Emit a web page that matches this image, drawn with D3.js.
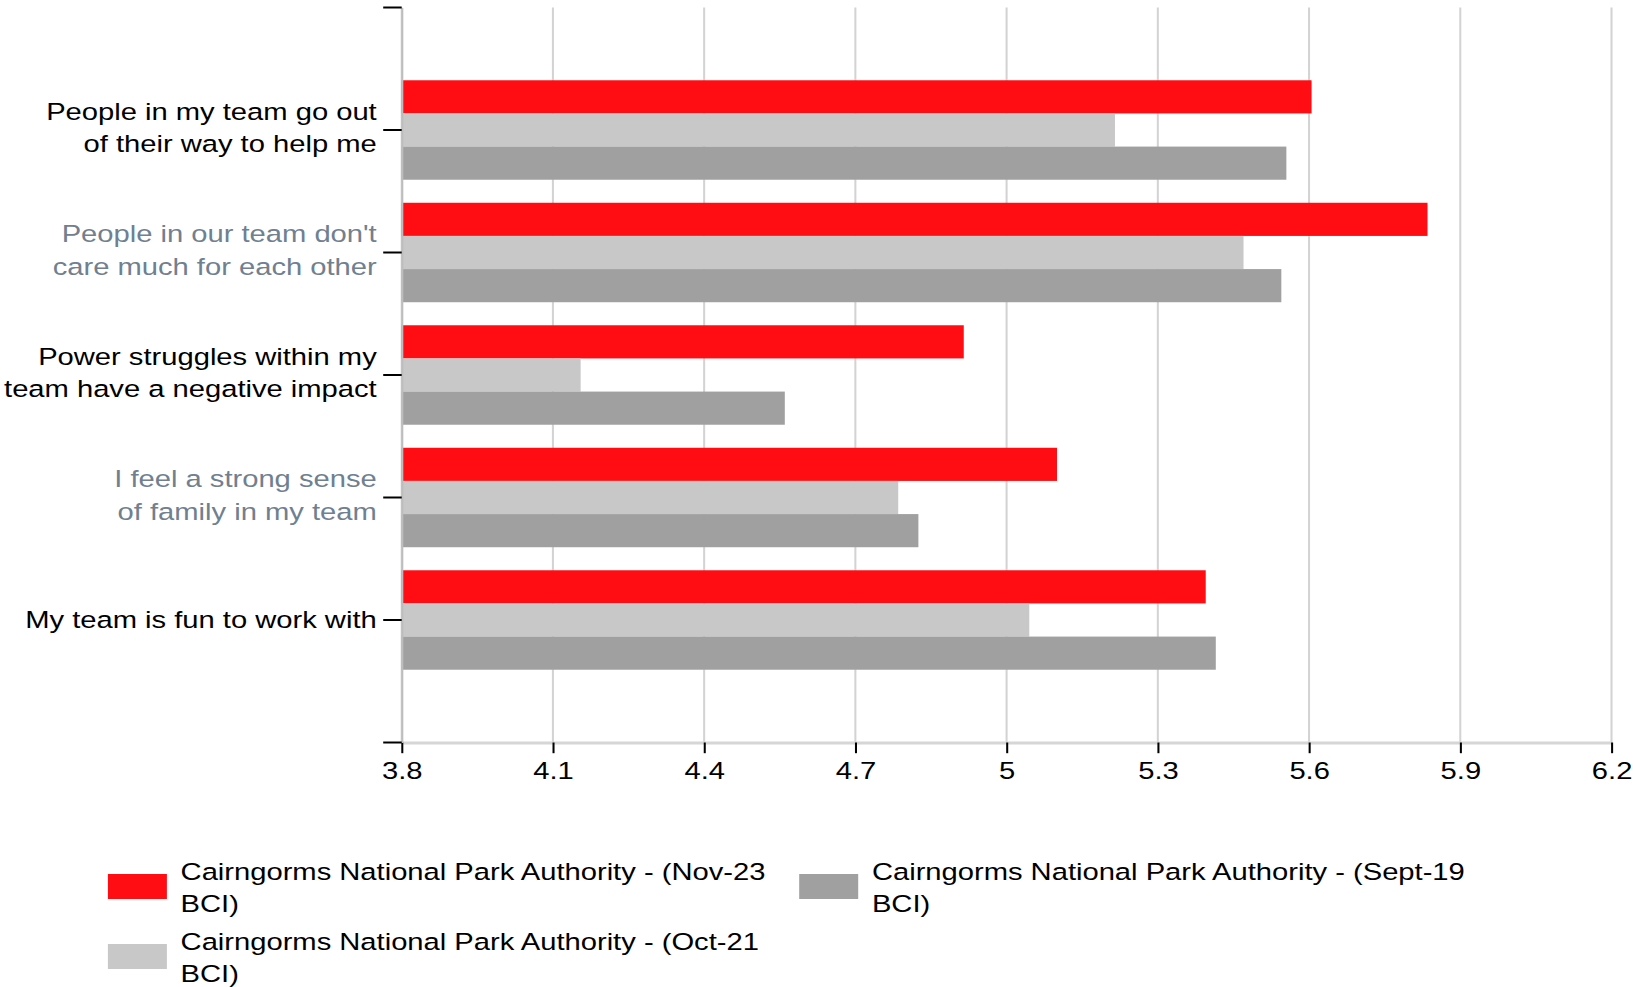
<!DOCTYPE html>
<html>
<head>
<meta charset="utf-8">
<script src="https://cdn.jsdelivr.net/npm/d3@7"></script>
<style>
  html, body { margin: 0; padding: 0; background: #fff; }
  svg { display: block; }
  text { font-family: "Liberation Sans", Arial, sans-serif; }
</style>
</head>
<body>
<div id="chart"></div>
<script>
// ---- data ----
const categories = [
  "People in my team go out\nof their way to help me",
  "People in our team don't\ncare much for each other",
  "Power struggles within my\nteam have a negative impact",
  "I feel a strong sense\nof family in my team",
  "My team is fun to work with"
];
const labelColors = ["#000000", "#708090", "#000000", "#708090", "#000000"];
const seriesNames = [
  "Cairngorms National Park Authority - (Nov-23 BCI)",
  "Cairngorms National Park Authority - (Oct-21 BCI)",
  "Cairngorms National Park Authority - (Sept-19 BCI)"
];
const seriesColors = ["#ff0d12", "#c8c8c8", "#a0a0a0"];
const nov23  = [5.605, 5.835, 4.915, 5.10, 5.395];
const oct21  = [5.215, 5.47, 4.155, 4.785, 5.045];
const sept19 = [5.555, 5.545, 4.56, 4.825, 5.415];
const xTicks = [3.8, 4.1, 4.4, 4.7, 5.0, 5.3, 5.6, 5.9, 6.2];
const xTickLabels = ["3.8", "4.1", "4.4", "4.7", "5", "5.3", "5.6", "5.9", "6.2"];

const seriesValues = [nov23, oct21, sept19];

// ---- layout ----
const W = 1633, H = 987;
const k = 1.2;              // horizontal stretch of the original rendering
const fontSize = 24.3;

const svg = d3.select("#chart").append("svg")
  .attr("width", W).attr("height", H);
const root = svg.append("g").attr("transform", `scale(${k},1)`);

const x = d3.scaleLinear().domain([3.8, 6.2]).range([401.7 / k, 1611.5 / k]);
const y = d3.scaleBand().domain(d3.range(categories.length))
  .range([7.5, 742.5]).paddingInner(0.188).paddingOuter(0.594);
const yInner = d3.scaleBand().domain(d3.range(seriesValues.length))
  .range([0, y.bandwidth()]);

const yTop = y.range()[0], yBottom = y.range()[1];

// gridlines
root.append("g").selectAll("line").data(xTicks).join("line")
  .attr("x1", d => x(d)).attr("x2", d => x(d))
  .attr("y1", yTop).attr("y2", yBottom)
  .attr("stroke", "#d3d3d3").attr("stroke-width", 1.7);

// bars
const groups = root.append("g").selectAll("g").data(categories).join("g")
  .attr("transform", (d, i) => `translate(0,${y(i)})`);
groups.selectAll("rect")
  .data((d, i) => seriesValues.map((vals, s) => ({ s, v: vals[i] })))
  .join("rect")
  .attr("x", x(3.8))
  .attr("y", d => yInner(d.s))
  .attr("width", d => x(d.v) - x(3.8))
  .attr("height", yInner.bandwidth())
  .attr("fill", d => seriesColors[d.s]);

// x axis
const xAxis = root.append("g").attr("transform", `translate(0,${yBottom})`)
  .call(d3.axisBottom(x).tickValues(xTicks)
    .tickFormat((d, i) => xTickLabels[i]).tickSize(10.7).tickSizeOuter(0));
xAxis.select(".domain").attr("stroke", "#d6d6d6").attr("stroke-width", 3);
xAxis.selectAll(".tick line").attr("stroke", "#000").attr("stroke-width", 1.7);
xAxis.selectAll(".tick text")
  .attr("y", 36.8).attr("dy", null)
  .attr("fill", "#000").attr("font-size", fontSize)
  .attr("font-family", "Liberation Sans, Arial, sans-serif");

// y axis
const tickLen = 18.5 / k;
const yAxis = root.append("g").attr("transform", `translate(${x(3.8)},0)`)
  .call(d3.axisLeft(y).tickFormat("").tickSize(tickLen).tickSizeOuter(0));
yAxis.select(".domain").attr("stroke", "#bdbdbd").attr("stroke-width", 1.7);
yAxis.selectAll(".tick line").attr("stroke", "#000").attr("stroke-width", 2);
yAxis.selectAll(".tick text").remove();
// outer ticks (black)
yAxis.append("g").selectAll("line").data(y.range()).join("line")
  .attr("x1", -tickLen).attr("x2", 0)
  .attr("y1", d => d).attr("y2", d => d)
  .attr("stroke", "#000").attr("stroke-width", 2);

// category labels
const lineH = 32.6;
yAxis.selectAll(".tick").each(function(d, i) {
  const lines = categories[i].split("\n");
  const n = lines.length;
  const off = n === 1 ? 7.7 : 6;
  const t = d3.select(this).append("text")
    .attr("text-anchor", "end")
    .attr("fill", labelColors[i])
    .attr("font-size", fontSize)
    .attr("font-family", "Liberation Sans, Arial, sans-serif");
  lines.forEach((ln, j) => {
    t.append("tspan").attr("x", -25 / k)
      .attr("y", off - (n - 1) * lineH / 2 + j * lineH)
      .text(ln);
  });
});

// legend
const legend = root.append("g");
const legendPos = [{ col: 0, row: 0 }, { col: 0, row: 1 }, { col: 1, row: 0 }];
const colX = [107.9 / k, 799.2 / k];
const rowY = [874, 944];
seriesNames.forEach((name, s) => {
  const p = legendPos[s];
  const gx = colX[p.col], gy = rowY[p.row];
  legend.append("rect")
    .attr("x", gx).attr("y", gy)
    .attr("width", 59 / k).attr("height", 25)
    .attr("fill", seriesColors[s]);
  const idx = name.lastIndexOf(" ");
  const lines = [name.slice(0, idx), name.slice(idx + 1)];
  const t = legend.append("text").attr("font-size", fontSize).attr("fill", "#000");
  lines.forEach((ln, j) => {
    t.append("tspan").attr("x", gx + 72.7 / k).attr("y", gy + 6.5 + j * 31.7).text(ln);
  });
});
</script>
</body>
</html>
